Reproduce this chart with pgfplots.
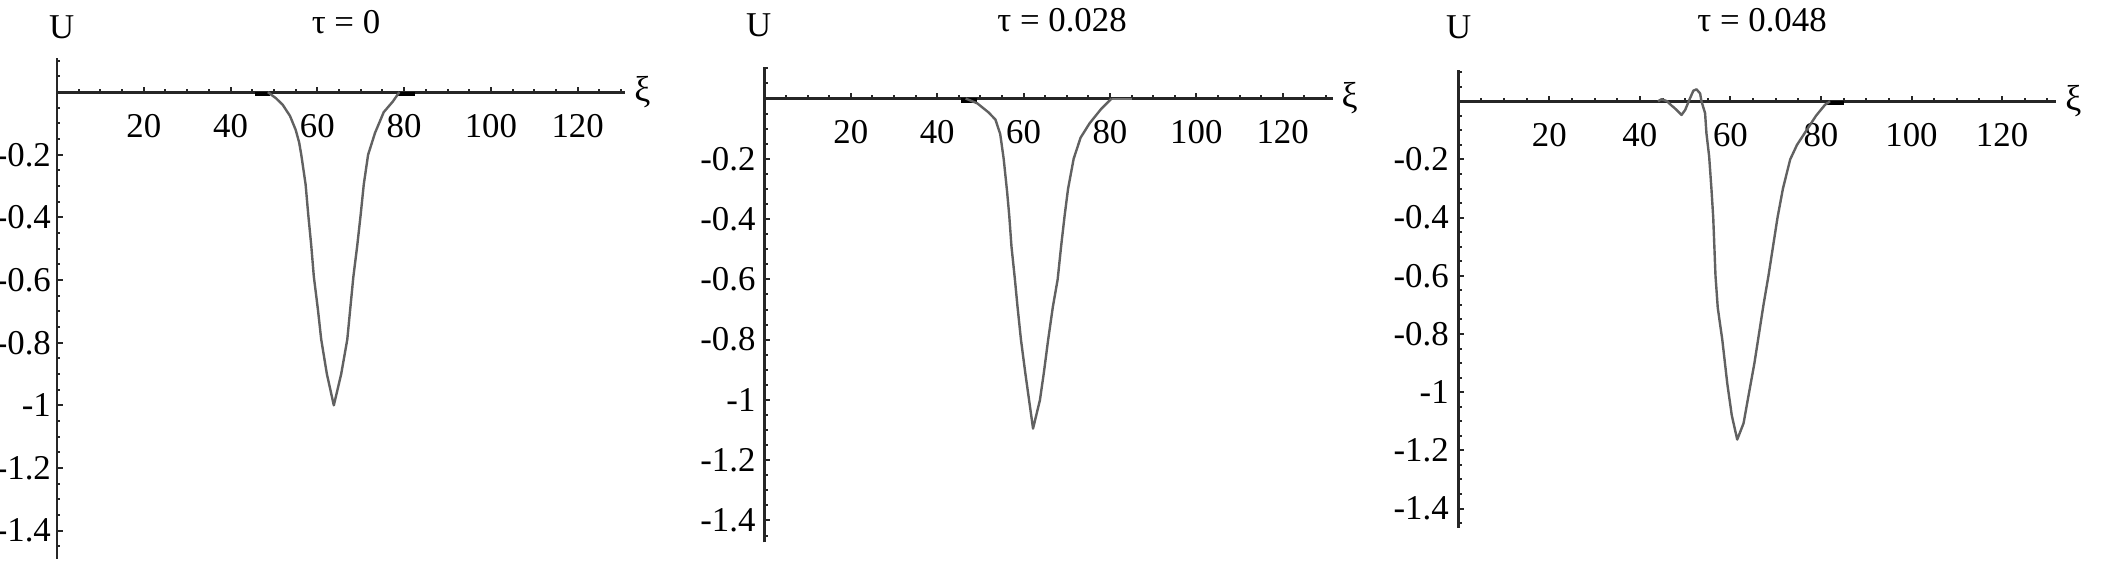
\documentclass[border=0pt]{standalone}
\usepackage{fontspec}
\setmainfont{Liberation Serif}
\usepackage{pgfplots}
\pgfplotsset{compat=1.18}

\pgfplotstableread{
x y
48.6 0.0
50.5 -0.02
52.0 -0.04
53.7 -0.076
55.0 -0.12
55.8 -0.16
56.3 -0.2
57.3 -0.295
57.9 -0.39
58.6 -0.49
59.2 -0.59
60.1 -0.69
60.9 -0.79
62.2 -0.9
63.8 -1.0
65.5 -0.9
66.9 -0.79
67.6 -0.69
68.3 -0.59
69.2 -0.49
70.0 -0.39
70.7 -0.295
71.7 -0.2
73.3 -0.13
75.3 -0.064
77.4 -0.03
78.9 0.0
}\tabA

\pgfplotstableread{
x y
46.6 0.0
49.3 -0.016
51.9 -0.046
53.5 -0.07
54.6 -0.118
55.4 -0.2
56.2 -0.31
56.7 -0.39
57.2 -0.49
58.0 -0.6
58.6 -0.69
59.4 -0.8
60.4 -0.91
62.2 -1.095
63.8 -1.0
64.7 -0.91
65.7 -0.8
66.8 -0.69
67.9 -0.6
68.7 -0.49
69.5 -0.39
70.3 -0.3
71.6 -0.2
73.2 -0.13
75.3 -0.082
78.0 -0.034
80.4 0.0
}\tabB

\pgfplotstableread{
x y
44.0 0.0
44.8 0.007
46.0 0.0
47.0 -0.015
47.7 -0.024
49.2 -0.047
50.0 -0.03
50.9 0.004
51.8 0.036
52.5 0.041
53.3 0.027
53.6 0.0
54.4 -0.041
54.7 -0.11
55.3 -0.19
55.8 -0.3
56.2 -0.4
56.7 -0.6
57.2 -0.71
58.2 -0.82
59.3 -0.97
60.3 -1.08
61.5 -1.163
62.9 -1.107
63.9 -1.02
65.3 -0.9
66.3 -0.8
67.3 -0.7
68.4 -0.6
69.4 -0.5
70.4 -0.4
71.6 -0.3
73.2 -0.2
74.7 -0.15
76.8 -0.1
78.9 -0.05
80.9 -0.012
82.0 0.0
}\tabC

\pgfplotsset{
  mstyle/.style={
    scale only axis,
    anchor=south west,
    axis lines=middle,
    axis line style={black!85, line width=0.7pt, -},
    tick align=inside,
    xtick={20,40,60,80,100,120},
    ytick={-1.4,-1.2,-1,-0.8,-0.6,-0.4,-0.2},
    minor xtick={5,10,...,130},
    minor ytick={-1.45,-1.4,...,0.1},
    major tick length=1.4pt,
    minor tick length=0.8pt,
    tick style={black!85, line width=0.5pt},
    tick label style={font=\fontsize{8.7}{10}\selectfont},
    /pgf/number format/assume math mode=true,
    xticklabel style={yshift=-2pt},
    clip=false,
    xlabel={ξ},
    every axis x label/.style={at={(current axis.right of origin)}, anchor=west,
      font=\fontsize{9}{10}\selectfont, inner sep=2pt},
  },
  curve/.style={color=black!62, line width=0.6pt, line join=round},
  seg/.style={black, line width=1.1pt},
}

\begin{document}
\begin{tikzpicture}
\useasboundingbox (0,0) rectangle (525.5pt,141.75pt);

\begin{axis}[mstyle, at={(14.25pt,2.05pt)}, width=142.1pt, height=125.2pt,
  xmin=0, xmax=131, ymin=-1.49, ymax=0.109,
  yticklabel style={xshift=2pt}]
  \addplot[seg] coordinates {(45.6,-0.006) (49.1,-0.006)};
  \addplot[seg] coordinates {(78.6,-0.006) (82.5,-0.006)};
  \addplot[curve] table[x=x,y=y] {\tabA};
\end{axis}

\begin{axis}[mstyle, at={(191.1pt,6.125pt)}, width=142.1pt, height=118.9pt,
  xmin=0, xmax=131.6, ymin=-1.473, ymax=0.105,
  yticklabel style={xshift=1.3pt}]
  \addplot[seg] coordinates {(45.5,-0.006) (49.3,-0.006)};
  \addplot[black!55, line width=0.5pt] coordinates {(80.4,0.0) (85,0.0)};
  \addplot[curve] table[x=x,y=y] {\tabB};
\end{axis}

\begin{axis}[mstyle, at={(364.7pt,9.75pt)}, width=149.4pt, height=114.4pt,
  xmin=0, xmax=132, ymin=-1.467, ymax=0.106,
  yticklabel style={xshift=1pt}]
  \addplot[seg] coordinates {(81.4,-0.006) (85.0,-0.006)};
  \addplot[curve] table[x=x,y=y] {\tabC};
\end{axis}

\begin{scope}[every node/.style={font=\fontsize{8.7}{10}\selectfont, inner sep=0pt}]
\node at (86.5pt,136.3pt) {τ = 0};
\node at (265.5pt,136.8pt) {τ = 0.028};
\node at (440.5pt,136.8pt) {τ = 0.048};
\node at (15.4pt,135pt) {U};
\node at (189.7pt,135.4pt) {U};
\node at (364.7pt,135pt) {U};
\end{scope}
\end{tikzpicture}
\end{document}
